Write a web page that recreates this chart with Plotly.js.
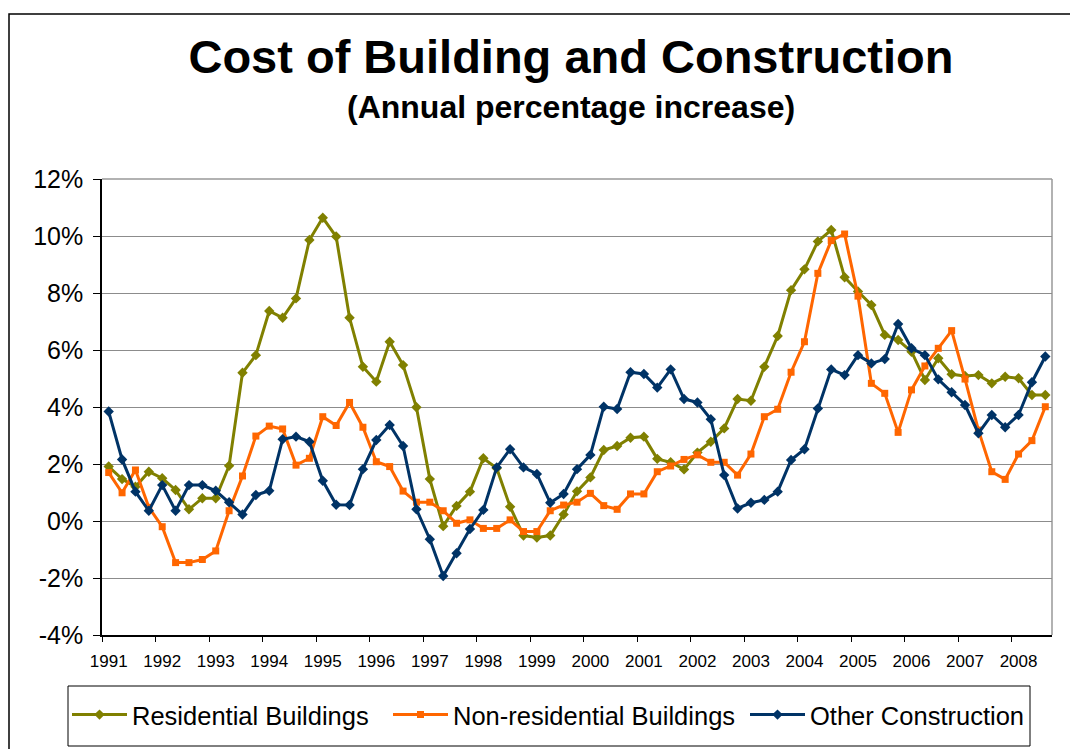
<!DOCTYPE html>
<html>
<head>
<meta charset="utf-8">
<script src="https://cdn.plot.ly/plotly-3.0.1.min.js"></script>
<style>html,body{margin:0;padding:0;background:#fff;}#chart{width:1070px;height:749px;}</style>
</head>
<body>
<div id="chart"></div>
<script>
// Quarterly data, 1991 Q1 .. 2008 Q3 (annual % increase)
const years = [1991,1992,1993,1994,1995,1996,1997,1998,1999,2000,2001,2002,2003,2004,2005,2006,2007,2008];
const quarterCount = 71;
const yTickValues = [-4, -2, 0, 2, 4, 6, 8, 10, 12];
const yTickLabels = ['-4%', '-2%', '0%', '2%', '4%', '6%', '8%', '10%', '12%'];

const residential = [
  1.91, 1.47, 1.20, 1.73, 1.50, 1.09, 0.41, 0.80, 0.80, 1.94,
  5.20, 5.82, 7.37, 7.13, 7.81, 9.86, 10.64, 9.98, 7.13, 5.41,
  4.89, 6.29, 5.47, 3.99, 1.47, -0.18, 0.53, 1.03, 2.20, 1.85,
  0.50, -0.51, -0.58, -0.51, 0.23, 1.04, 1.53, 2.49, 2.63, 2.92,
  2.96, 2.18, 2.06, 1.81, 2.40, 2.78, 3.25, 4.28, 4.22, 5.41,
  6.49, 8.10, 8.83, 9.81, 10.21, 8.55, 8.05, 7.58, 6.53, 6.35,
  5.94, 4.95, 5.71, 5.15, 5.09, 5.12, 4.83, 5.06, 5.01, 4.42,
  4.42
];
const nonResidential = [
  1.70, 0.99, 1.79, 0.48, -0.20, -1.46, -1.46, -1.35, -1.05, 0.36,
  1.58, 2.98, 3.33, 3.23, 1.96, 2.20, 3.66, 3.35, 4.16, 3.29,
  2.08, 1.91, 1.05, 0.66, 0.66, 0.36, -0.08, 0.04, -0.26, -0.26,
  0.04, -0.37, -0.37, 0.36, 0.56, 0.66, 0.97, 0.54, 0.41, 0.95,
  0.95, 1.73, 1.93, 2.16, 2.32, 2.06, 2.06, 1.61, 2.35, 3.66,
  3.92, 5.22, 6.29, 8.69, 9.84, 10.07, 7.89, 4.83, 4.48, 3.11,
  4.60, 5.44, 6.06, 6.68, 4.98, 3.19, 1.73, 1.46, 2.35, 2.82,
  4.01
];
const otherConstruction = [
  3.84, 2.16, 1.03, 0.36, 1.26, 0.36, 1.26, 1.26, 1.06, 0.66,
  0.23, 0.91, 1.06, 2.87, 2.96, 2.78, 1.41, 0.57, 0.56, 1.82,
  2.84, 3.37, 2.63, 0.41, -0.64, -1.93, -1.13, -0.28, 0.39, 1.88,
  2.52, 1.88, 1.65, 0.64, 0.95, 1.82, 2.32, 4.01, 3.93, 5.22,
  5.16, 4.68, 5.32, 4.28, 4.16, 3.57, 1.61, 0.44, 0.64, 0.74,
  1.03, 2.14, 2.52, 3.95, 5.32, 5.12, 5.82, 5.53, 5.68, 6.91,
  6.06, 5.82, 4.97, 4.52, 4.07, 3.08, 3.72, 3.29, 3.72, 4.87,
  5.77
];

const seriesNames = ['Residential Buildings', 'Non-residential Buildings', 'Other Construction'];
const seriesColors = ['#808000', '#FF6600', '#003366'];
const seriesSymbols = ['diamond', 'square', 'diamond'];
const legendIds = ['legend', 'legend2', 'legend3'];
const legendLeftPx = [77, 398, 755];

// quarter index positions and labels
const qx = [];
const qLabels = [];
for (let i = 0; i < quarterCount; i++) {
  qx.push(i);
  qLabels.push(years[Math.floor(i / 4)] + ' Q' + (i % 4 + 1));
}
const yearTickVals = years.map((y, k) => k * 4);
const yearTickText = years.map(String);
const boundaryTicks = [];
for (let k = 0; k <= years.length; k++) boundaryTicks.push(k * 4 - 0.5);

const font = 'Arial, "Liberation Sans", Helvetica, sans-serif';
const allSeries = [residential, nonResidential, otherConstruction];

const traces = allSeries.map((vals, s) => ({
  type: 'scatter',
  mode: 'lines+markers',
  x: qx,
  y: vals,
  text: qLabels,
  name: seriesNames[s],
  legend: legendIds[s],
  line: {color: seriesColors[s], width: 3},
  marker: {symbol: seriesSymbols[s], size: seriesSymbols[s] === 'square' ? 7 : 8, color: seriesColors[s]},
  hovertemplate: '%{text}: %{y:.1f}%<extra>' + seriesNames[s] + '</extra>'
}));

const PLOT_L = 102, PLOT_W = 950, PLOT_B = 635, PLOT_H = 456;
const px2x = p => (p - PLOT_L) / PLOT_W;
const px2y = p => (PLOT_B - p) / PLOT_H;

const layout = {
  width: 1070,
  height: 749,
  margin: {l: 102, r: 18, t: 179, b: 114, autoexpand: false},
  paper_bgcolor: '#fff',
  plot_bgcolor: '#fff',
  font: {family: font, color: '#000'},
  showlegend: true,
  title: {
    text: '<b>Cost of Building and Construction</b>',
    font: {family: font, size: 47, color: '#000'},
    x: 0.5336, xanchor: 'center', xref: 'container',
    y: 0.924, yanchor: 'middle', yref: 'container'
  },
  annotations: [{
    text: '<b>(Annual percentage increase)</b>',
    xref: 'paper', yref: 'paper',
    x: px2x(571), y: px2y(107),
    xanchor: 'center', yanchor: 'middle',
    showarrow: false,
    font: {family: font, size: 32, color: '#000'}
  }],
  xaxis: {
    range: [-0.5, quarterCount - 0.5],
    tickmode: 'array',
    tickvals: yearTickVals,
    ticktext: yearTickText,
    ticks: '',
    ticklabelstandoff: 10,
    tickfont: {family: font, size: 17, color: '#000'},
    showgrid: false,
    zeroline: false,
    showline: true,
    linecolor: '#000',
    linewidth: 1.5,
    minor: {tickmode: 'array', tickvals: boundaryTicks, ticks: 'outside', ticklen: 5, tickcolor: '#000', tickwidth: 1, showgrid: false},
    fixedrange: true
  },
  yaxis: {
    range: [-4, 12],
    tickmode: 'array',
    tickvals: yTickValues,
    ticktext: yTickLabels,
    ticks: 'outside',
    ticklen: 7,
    tickcolor: '#000',
    ticklabelstandoff: 5,
    tickfont: {family: font, size: 25, color: '#000'},
    showgrid: true,
    gridcolor: '#8c8c8c',
    gridwidth: 1,
    zeroline: false,
    showline: true,
    linecolor: '#000',
    linewidth: 1.5,
    fixedrange: true
  },
  shapes: [
    {type: 'line', xref: 'paper', yref: 'paper', x0: 0, x1: 1, y0: 1, y1: 1, line: {color: '#999', width: 1.5}, layer: 'below'},
    {type: 'line', xref: 'paper', yref: 'paper', x0: 1, x1: 1, y0: 0, y1: 1, line: {color: '#999', width: 1.5}, layer: 'below'},
    {type: 'rect', xref: 'paper', yref: 'paper', x0: px2x(9), x1: px2x(1080), y0: px2y(760), y1: px2y(14), line: {color: '#000', width: 1.5}, fillcolor: 'rgba(0,0,0,0)'},
    {type: 'rect', xref: 'paper', yref: 'paper', x0: px2x(68), x1: px2x(1030), y0: px2y(746), y1: px2y(686), line: {color: '#000', width: 1}, fillcolor: 'rgba(0,0,0,0)'}
  ]
};

legendIds.forEach((id, s) => {
  layout[id] = {
    orientation: 'h',
    x: px2x(legendLeftPx[s] - 10), xanchor: 'left',
    y: px2y(715), yanchor: 'middle',
    xref: 'paper', yref: 'paper',
    bgcolor: 'rgba(0,0,0,0)',
    borderwidth: 0,
    itemwidth: 55,
    font: {family: font, size: 25.5, color: '#000'}
  };
});

Plotly.newPlot('chart', traces, layout, {displayModeBar: false});
</script>
</body>
</html>
